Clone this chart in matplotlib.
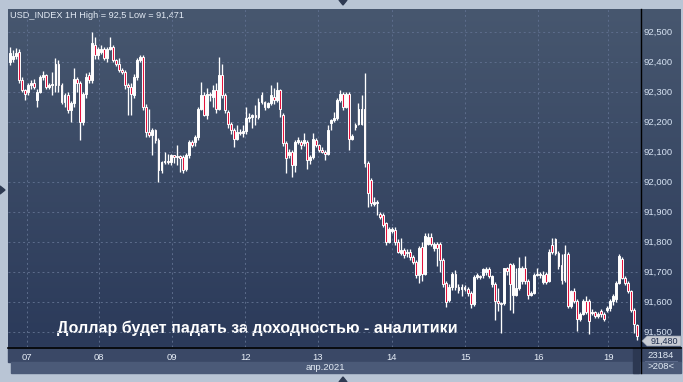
import numpy as np
import matplotlib
matplotlib.use("Agg")
import matplotlib.pyplot as plt
from matplotlib.colors import LinearSegmentedColormap
from matplotlib.patches import Polygon, Rectangle

plt.rcParams['font.family'] = ['Liberation Sans', 'DejaVu Sans']

# USD_INDEX, hourly candles (6-19 Apr 2021)
opens = [
    92.400, 92.410, 92.420, 92.431, 92.339, 92.306, 92.300, 92.322, 92.328, 92.272,
    92.300, 92.350, 92.356, 92.317, 92.322, 92.322, 92.391, 92.322, 92.267, 92.289,
    92.239, 92.261, 92.344, 92.328, 92.200, 92.294, 92.356, 92.339, 92.456, 92.422,
    92.433, 92.444, 92.411, 92.444, 92.450, 92.406, 92.394, 92.372, 92.367, 92.322,
    92.317, 92.289, 92.350, 92.406, 92.417, 92.250, 92.167, 92.156, 92.172, 92.139,
    92.039, 92.067, 92.069, 92.067, 92.089, 92.083, 92.086, 92.083, 92.044, 92.089,
    92.133, 92.133, 92.150, 92.244, 92.289, 92.222, 92.294, 92.283, 92.306, 92.244,
    92.356, 92.289, 92.233, 92.194, 92.172, 92.144, 92.167, 92.164, 92.169, 92.211,
    92.217, 92.222, 92.217, 92.267, 92.267, 92.250, 92.261, 92.283, 92.272, 92.306,
    92.222, 92.128, 92.089, 92.100, 92.056, 92.133, 92.133, 92.128, 92.133, 92.072,
    92.083, 92.139, 92.122, 92.106, 92.100, 92.094, 92.197, 92.206, 92.211, 92.272,
    92.294, 92.250, 92.291, 92.144, 92.183, 92.194, 92.194, 92.244, 92.061, 92.006,
    91.926, 91.930, 91.894, 91.889, 91.861, 91.800, 91.837, 91.839, 91.800, 91.761,
    91.772, 91.761, 91.767, 91.750, 91.733, 91.689, 91.783, 91.694, 91.794, 91.817,
    91.778, 91.794, 91.794, 91.739, 91.661, 91.606, 91.650, 91.694, 91.650, 91.644,
    91.650, 91.644, 91.628, 91.594, 91.683, 91.685, 91.688, 91.700, 91.708, 91.658,
    91.658, 91.602, 91.597, 91.597, 91.711, 91.727, 91.624, 91.624, 91.647, 91.669,
    91.713, 91.669, 91.624, 91.630, 91.689, 91.689, 91.667, 91.691, 91.669, 91.789,
    91.808, 91.763, 91.724, 91.671, 91.758, 91.586, 91.636, 91.602, 91.541, 91.560,
    91.602, 91.604, 91.563, 91.567, 91.552, 91.569, 91.558, 91.572, 91.578, 91.604,
    91.608, 91.663, 91.744, 91.680, 91.663, 91.636, 91.574, 91.522,
]
highs = [
    92.450, 92.440, 92.445, 92.444, 92.350, 92.310, 92.330, 92.340, 92.344, 92.310,
    92.355, 92.370, 92.360, 92.330, 92.367, 92.411, 92.405, 92.330, 92.295, 92.300,
    92.270, 92.378, 92.350, 92.335, 92.300, 92.361, 92.367, 92.500, 92.483, 92.450,
    92.456, 92.450, 92.450, 92.483, 92.455, 92.410, 92.411, 92.380, 92.372, 92.330,
    92.328, 92.360, 92.411, 92.424, 92.424, 92.260, 92.244, 92.180, 92.175, 92.145,
    92.070, 92.100, 92.094, 92.094, 92.090, 92.122, 92.090, 92.090, 92.095, 92.139,
    92.140, 92.155, 92.250, 92.333, 92.300, 92.311, 92.300, 92.322, 92.328, 92.417,
    92.394, 92.295, 92.240, 92.200, 92.180, 92.189, 92.175, 92.189, 92.250, 92.230,
    92.225, 92.256, 92.278, 92.300, 92.270, 92.265, 92.322, 92.311, 92.333, 92.310,
    92.230, 92.135, 92.110, 92.105, 92.140, 92.150, 92.140, 92.161, 92.140, 92.090,
    92.161, 92.145, 92.125, 92.117, 92.105, 92.189, 92.210, 92.233, 92.278, 92.306,
    92.300, 92.300, 92.300, 92.160, 92.195, 92.261, 92.289, 92.361, 92.070, 92.011,
    91.950, 91.940, 91.900, 91.895, 91.865, 91.850, 91.850, 91.850, 91.810, 91.811,
    91.780, 91.775, 91.775, 91.756, 91.740, 91.785, 91.800, 91.828, 91.828, 91.828,
    91.800, 91.800, 91.800, 91.745, 91.670, 91.660, 91.700, 91.706, 91.660, 91.660,
    91.655, 91.650, 91.635, 91.690, 91.695, 91.690, 91.712, 91.715, 91.715, 91.690,
    91.665, 91.647, 91.600, 91.713, 91.715, 91.730, 91.730, 91.713, 91.749, 91.720,
    91.752, 91.675, 91.635, 91.695, 91.713, 91.700, 91.702, 91.700, 91.775, 91.813,
    91.813, 91.770, 91.758, 91.789, 91.765, 91.640, 91.645, 91.610, 91.565, 91.610,
    91.619, 91.610, 91.575, 91.570, 91.565, 91.575, 91.565, 91.585, 91.610, 91.625,
    91.669, 91.758, 91.750, 91.685, 91.670, 91.640, 91.580, 91.525,
]
lows = [
    92.390, 92.400, 92.410, 92.330, 92.300, 92.272, 92.290, 92.310, 92.310, 92.250,
    92.295, 92.340, 92.310, 92.310, 92.289, 92.300, 92.300, 92.260, 92.250, 92.230,
    92.200, 92.250, 92.300, 92.139, 92.189, 92.280, 92.330, 92.330, 92.410, 92.410,
    92.425, 92.405, 92.400, 92.440, 92.400, 92.385, 92.365, 92.360, 92.310, 92.222,
    92.222, 92.280, 92.340, 92.400, 92.240, 92.150, 92.150, 92.089, 92.130, 92.000,
    92.028, 92.060, 92.060, 92.056, 92.061, 92.056, 92.033, 92.028, 92.035, 92.080,
    92.115, 92.120, 92.140, 92.240, 92.220, 92.210, 92.270, 92.250, 92.230, 92.240,
    92.280, 92.230, 92.180, 92.160, 92.117, 92.140, 92.155, 92.150, 92.160, 92.200,
    92.180, 92.190, 92.210, 92.260, 92.240, 92.245, 92.255, 92.260, 92.265, 92.217,
    92.120, 92.028, 92.080, 92.017, 92.033, 92.125, 92.110, 92.120, 92.044, 92.060,
    92.075, 92.115, 92.100, 92.095, 92.072, 92.090, 92.172, 92.200, 92.205, 92.265,
    92.240, 92.245, 92.106, 92.140, 92.172, 92.190, 92.190, 92.050, 91.917, 91.920,
    91.920, 91.889, 91.875, 91.850, 91.790, 91.795, 91.830, 91.790, 91.761, 91.755,
    91.745, 91.750, 91.740, 91.725, 91.680, 91.661, 91.670, 91.690, 91.790, 91.785,
    91.770, 91.720, 91.700, 91.650, 91.583, 91.600, 91.640, 91.640, 91.630, 91.620,
    91.635, 91.620, 91.578, 91.585, 91.675, 91.675, 91.680, 91.690, 91.680, 91.650,
    91.538, 91.569, 91.497, 91.590, 91.690, 91.574, 91.563, 91.620, 91.640, 91.660,
    91.660, 91.608, 91.620, 91.625, 91.685, 91.680, 91.660, 91.660, 91.665, 91.760,
    91.755, 91.710, 91.660, 91.665, 91.580, 91.580, 91.595, 91.502, 91.535, 91.555,
    91.560, 91.491, 91.555, 91.545, 91.545, 91.550, 91.535, 91.565, 91.570, 91.590,
    91.600, 91.660, 91.675, 91.655, 91.630, 91.565, 91.497, 91.471,
]
closes = [
    92.428, 92.420, 92.430, 92.339, 92.306, 92.294, 92.322, 92.328, 92.317, 92.300,
    92.350, 92.356, 92.317, 92.322, 92.325, 92.391, 92.322, 92.267, 92.289, 92.239,
    92.261, 92.344, 92.328, 92.200, 92.294, 92.350, 92.339, 92.461, 92.422, 92.444,
    92.444, 92.411, 92.444, 92.450, 92.406, 92.394, 92.372, 92.367, 92.322, 92.317,
    92.294, 92.350, 92.406, 92.417, 92.250, 92.167, 92.156, 92.172, 92.139, 92.039,
    92.067, 92.069, 92.067, 92.089, 92.083, 92.086, 92.078, 92.039, 92.089, 92.133,
    92.122, 92.150, 92.244, 92.289, 92.222, 92.294, 92.289, 92.306, 92.244, 92.356,
    92.289, 92.239, 92.194, 92.172, 92.144, 92.167, 92.164, 92.169, 92.211, 92.217,
    92.222, 92.217, 92.267, 92.289, 92.250, 92.261, 92.289, 92.272, 92.306, 92.244,
    92.128, 92.078, 92.100, 92.056, 92.133, 92.139, 92.122, 92.139, 92.072, 92.083,
    92.144, 92.122, 92.106, 92.100, 92.094, 92.172, 92.206, 92.211, 92.272, 92.294,
    92.250, 92.294, 92.144, 92.152, 92.189, 92.244, 92.244, 92.061, 91.961, 91.928,
    91.933, 91.930, 91.883, 91.856, 91.800, 91.844, 91.844, 91.800, 91.767, 91.772,
    91.756, 91.767, 91.750, 91.733, 91.689, 91.778, 91.694, 91.819, 91.817, 91.794,
    91.794, 91.778, 91.739, 91.659, 91.600, 91.650, 91.694, 91.650, 91.639, 91.650,
    91.644, 91.628, 91.594, 91.683, 91.688, 91.683, 91.708, 91.708, 91.686, 91.686,
    91.602, 91.597, 91.591, 91.711, 91.702, 91.658, 91.724, 91.647, 91.713, 91.713,
    91.669, 91.624, 91.630, 91.689, 91.691, 91.691, 91.689, 91.667, 91.767, 91.767,
    91.763, 91.719, 91.671, 91.758, 91.586, 91.636, 91.602, 91.541, 91.560, 91.602,
    91.567, 91.536, 91.567, 91.552, 91.558, 91.558, 91.544, 91.578, 91.604, 91.619,
    91.663, 91.752, 91.680, 91.663, 91.636, 91.574, 91.527, 91.486,
]

day_labels = ["07", "08", "09", "12", "13", "14", "15", "16", "19"]
day_pos = [5.6, 29.4, 53.5, 77.6, 101.6, 126.0, 150.2, 174.3, 197.4]
price_ticks = [91.5, 91.6, 91.7, 91.8, 91.9, 92.0, 92.1, 92.2, 92.3, 92.4, 92.5]
title = "USD_INDEX 1H High = 92,5 Low = 91,471"
headline = "Доллар будет падать за доходностью - аналитики"
month_label = "апр.2021"
last_label = "91,480"
volume_label = "23184"
bars_label = ">208<"

W, H = 683, 382
fig = plt.figure(figsize=(W / 100, H / 100), dpi=100, facecolor='#b9c5d5')

# background / chrome in pixel coordinates
bg = fig.add_axes([0, 0, 1, 1])
bg.axis('off')
cmap = LinearSegmentedColormap.from_list('panel', ['#47576f', '#2b3a5a'])
grad = np.linspace(0, 1, 256)[:, None]
bg.imshow(grad, cmap=cmap, extent=(8, 681, 347, 9), aspect='auto', zorder=0)
bg.add_patch(Rectangle((8, 347), 673, 15, color='#3a4866', zorder=1))
bg.add_patch(Rectangle((11, 362), 670, 11, color='#4b5a78', zorder=1))
bg.add_patch(Rectangle((633, 348), 6, 25, color='#2c3852', zorder=2))
bg.plot([640.5, 640.5], [9, 373], color='black', lw=1.0, zorder=3)
bg.plot([8, 681], [347.5, 347.5], color='black', lw=1.2, zorder=3)
bg.plot([645, 677], [360.5, 360.5], color='#5a6888', lw=0.7, zorder=3)
for pts in ([(339, 0), (347, 0), (343, 5)],
            [(0, 186), (0, 194), (5, 190)],
            [(339, 382), (347, 382), (343, 377)]):
    bg.add_patch(Polygon(pts, closed=True, color='#2e3a52', zorder=3))

# last price marker, kept just under the 91,500 label
bg.add_patch(Polygon([(642, 341), (647, 336), (681, 336), (681, 346), (647, 346)],
                     closed=True, facecolor='#c8ccd4', edgecolor='#8e98a8', lw=0.5, zorder=4))
bg.text(664, 341.2, last_label, ha='center', va='center', fontsize=6.5, color='#1e2d4d', zorder=5)

bg.text(661, 355, volume_label, ha='center', va='center', fontsize=6.8, color='#e3ebf5')
bg.text(661, 366.5, bars_label, ha='center', va='center', fontsize=6.8, color='#e3ebf5')
bg.text(10, 15, title, ha='left', va='center', fontsize=6.6, color='#e3eaf4', zorder=5)
bg.text(325, 367, month_label, ha='center', va='center', fontsize=6.8, color='#e3ebf5')
bg.text(57, 328, headline, ha='left', va='center', fontsize=11.5, fontweight='bold',
        color='white', zorder=6)
bg.set_xlim(0, W)
bg.set_ylim(H, 0)

# candle chart
ax = fig.add_axes([8 / W, 35 / H, 632 / W, 338 / H])
ax.set_facecolor('none')
o = np.array(opens)
c = np.array(closes)
hi = np.array(highs)
lo = np.array(lows)
idx = np.arange(len(c))
up = c >= o
ax.vlines(idx, lo, hi, color='white', lw=0.95, zorder=3)
body = np.maximum(np.abs(c - o), 0.003)
ax.bar(idx, body, bottom=np.minimum(o, c), width=0.62,
       color=np.where(up, 'white', '#e5123c'), edgecolor='white', linewidth=0.7, zorder=4)

ax.set_xlim(-0.66, 207.9)
ax.set_ylim(91.449, 92.576)
for s in ax.spines.values():
    s.set_visible(False)
ax.yaxis.tick_right()
ax.set_yticks(price_ticks)
ax.set_yticklabels([f"{v:.3f}".replace('.', ',') for v in price_ticks])
ax.set_xticks(day_pos)
ax.set_xticklabels(day_labels)
ax.tick_params(axis='y', length=0, pad=2.2, labelsize=6.8, labelcolor='#d6e2f2')
ax.tick_params(axis='x', length=0, pad=4, labelsize=6.8, labelcolor='#e6edf6')
ax.grid(True, color='#5d6d8c', lw=0.7, ls=(0, (2, 3)), zorder=1)

fig.savefig('out.png', dpi=100, facecolor=fig.get_facecolor())
